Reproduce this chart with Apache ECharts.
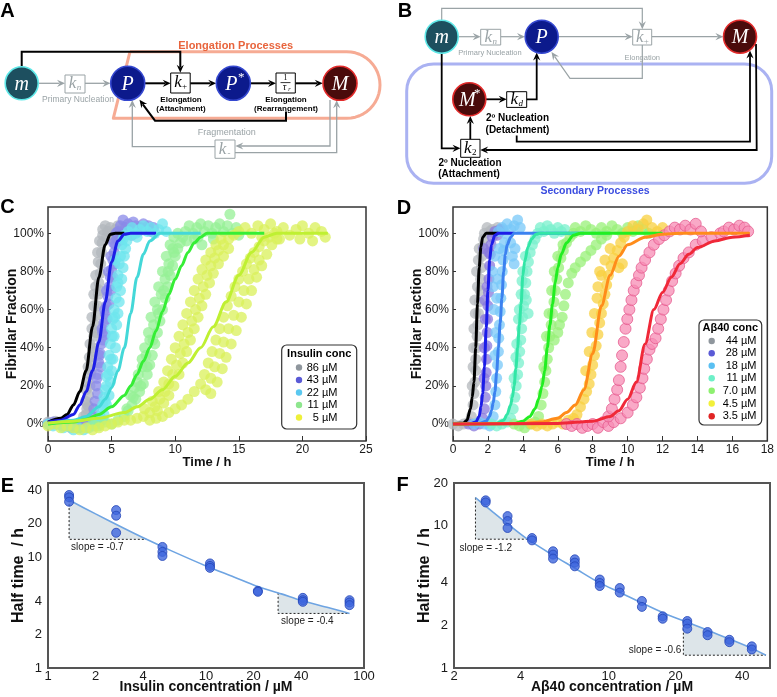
<!DOCTYPE html>
<html><head><meta charset="utf-8">
<script src="https://cdn.jsdelivr.net/npm/echarts@6/dist/echarts.min.js"></script>
<style>html,body{margin:0;padding:0;background:#fff}#c{width:777px;height:697px}</style>
</head><body><div id="c"></div><script>
const SANS = '"Liberation Sans", Arial, Helvetica, sans-serif';
const SERIF = '"Liberation Serif", "DejaVu Serif", serif';

// ---------- Panel C: insulin (time h, fibrillar fraction %) ----------
const cNames = ['86 µM','43 µM','22 µM','11 µM','5 µM'];
const cPts86 = [[0,1],[0.3,0],[0.6,1.5],[0.9,0.5],[1.2,-1],[1.5,0],[1.8,-2],[2.1,-1],[2.4,-2],[2.7,0],[2.9,2],[3.0,5],[3.1,10],[3.2,15],[3.3,20],[3.35,26],[3.45,33],[3.5,40],[3.6,46],[3.7,52],[3.8,57],[3.9,62],[3.95,68],[4.0,74],[4.1,79],[4.15,84],[4.2,90],[4.25,95],[4.3,99],[3.8,48],[3.65,38],[3.4,28],[4.05,70],[3.2,9],[2.95,12],[3.1,22],[3.25,35],[3.45,50],[3.6,62],[3.75,72],[3.95,85],[4.3,102],[4.5,104],[4.7,101],[4.9,103],[5.1,100],[5.3,102],[5.5,104],[5.7,101],[5.9,103],[4.6,98],[5.0,97],
 [3.0,18],[3.15,30],[3.3,42],[3.45,56],[3.6,68],[3.75,78],[3.9,90],[4.05,96],[2.8,4],[3.05,8]];
const cPts43 = [[0,0],[0.4,1],[0.8,0],[1.2,1],[1.6,0],[2,-1],[2.4,0],[2.8,1],[3.2,2],[3.5,4],[3.7,12],[3.8,20],[3.9,26],[4.0,32],[4.1,37],[4.2,42],[4.3,48],[4.4,53],[4.5,58],[4.6,62],[4.7,67],[4.8,72],[4.9,77],[5.0,81],[5.1,86],[5.2,90],[5.3,94],[5.4,97],[4.35,44],[4.65,55],[4.95,70],[5.25,84],[3.9,16],[4.15,30],[4.5,47],[4.8,63],[5.1,77],[5.5,101],[5.7,104],[5.9,107],[6.1,103],[6.3,105],[6.5,102],[6.7,106],[6.9,104],[7.1,101],[7.3,103],[7.5,105],[7.7,102],[7.9,104],[8.1,101],[8.3,103],[5.8,99],[6.6,99],
 [3.6,8],[3.85,24],[4.05,36],[4.25,50],[4.45,60],[4.6,70],[4.75,80],[4.95,88],[5.15,95],[5.35,100],[5.6,96]];
const cPts22 = [[0,0],[0.4,-1],[0.8,0],[1.2,-2],[1.6,-1],[2,-3],[2.4,-2],[2.8,-3],[3.2,-2],[3.6,-1],[4.0,0],[4.3,2],[4.4,5],[4.6,10],[4.8,15],[4.5,18],[4.9,22],[5.0,28],[5.1,34],[4.8,36],[5.3,40],[5.2,46],[5.0,50],[5.4,52],[5.5,58],[5.2,60],[5.6,64],[5.7,70],[5.4,72],[5.8,76],[5.9,82],[5.6,84],[6.0,88],[6.1,92],[5.8,94],[6.2,96],[6.0,99],[4.7,30],[5.1,55],[5.5,78],[4.6,25],[4.9,42],[6.3,101],[6.6,103],[6.9,100],[7.2,102],[7.5,104],[7.8,101],[8.1,103],[8.4,100],[8.7,102],[9.0,105],[9.3,101],[6.5,99],[7.0,98],
 [4.2,8],[4.4,14],[4.6,20],[4.75,26],[4.95,34],[5.05,46],[5.25,56],[5.35,66],[5.5,74],[5.7,88],[5.9,97],[5.3,86],[3.8,2],[4.1,4],[4.3,10],[4.5,12]];
const cPts11 = [[3.5,0],[4.0,-1],[4.5,1],[5.0,0],[5.5,2],[6.0,4],[6.3,7],[6.6,10],[6.9,13],[7.2,17],[7.5,21],[7.8,26],[8.0,31],[8.2,36],[8.4,42],[8.6,48],[8.8,54],[9.0,60],[9.2,66],[9.4,72],[9.6,78],[9.8,83],[10.0,88],[10.2,92],[10.4,95],[10.6,98],[7.0,22],[7.4,30],[7.7,36],[8.0,44],[8.3,52],[8.6,60],[8.9,68],[9.2,76],[9.5,84],[9.8,92],[10.8,101],[11.1,104],[11.4,100],[11.7,103],[12.0,105],[12.3,101],[12.6,104],[12.9,100],[13.2,103],[13.5,105],[13.8,101],[14.1,104],[14.3,110],[14.5,100],[14.8,103],[15.0,99],[11.5,97],[13,97],[10.9,96],[12.1,94],[11.8,98],
 [6.5,15],[6.8,19],[7.1,26],[7.4,34],[7.6,40],[7.9,48],[8.1,56],[8.4,64],[8.7,72],[9.0,80],[9.3,88],[9.6,94],[9.9,98],[10.2,100],
 [6.2,8],[6.7,14],[7.3,20],[7.8,30],[8.25,44],[8.7,58],[9.1,70],[9.45,80],[9.9,90]];
const cPts5 = [[0,-1],[0.5,0],[1,-2],[1.5,-1],[2,-2],[2.5,-3],[3,-2],[3.5,-3],[4,-2],[4.5,-1],[5,0],[5.5,1],[6,2],[6.5,2],[7,3],[7.5,4],[8,2],[8.5,3],[9,4],[9.5,6],[10,8],[10.5,10],[11,13],[11.5,17],
 [8.0,6],[8.4,9],[8.8,13],[9.2,17],[9.5,21],[9.8,26],[10.1,31],[10.4,37],[10.7,42],[11.0,48],[11.3,54],[11.6,60],[11.9,66],[12.2,72],[12.5,78],[12.8,83],[13.1,87],[13.4,91],[13.8,94],[14.2,97],[14.6,99],
 [8.6,7],[9.1,11],[9.5,15],[9.9,20],[10.3,26],[10.6,32],[10.9,38],[11.2,44],[11.5,50],[11.8,56],[12.1,62],[12.4,68],[12.7,74],[13.0,79],[13.4,84],[13.8,88],[14.2,92],
 [7.6,8],[8.2,12],[8.7,17],[9.1,22],[9.4,28],[9.7,34],[10.0,40],[10.3,46],[10.6,52],[10.9,58],[11.2,64],[11.5,70],[11.8,76],[12.1,81],[12.4,86],[12.8,90],[13.2,94],[13.6,97],
 [12.0,21],[12.3,26],[12.6,32],[12.9,38],[13.2,44],[13.5,50],[13.8,56],[14.1,62],[14.4,67],[14.7,72],[15.0,76],[15.3,80],[15.6,84],[15.9,87],[16.2,90],[16.6,93],[17.0,96],[17.4,98],[17.8,100],
 [12.4,18],[12.8,24],[13.1,30],[13.5,37],[13.8,43],[14.2,50],[14.6,57],[15.0,64],[15.4,70],[15.8,76],[16.2,81],[16.6,86],
 [12.8,16],[13.3,22],[13.7,29],[14.0,35],[14.4,42],[14.8,49],[15.2,56],[15.6,63],[16.0,70],[16.4,77],[16.8,83],[17.2,89],[17.6,94],[18.0,97],
 [15,101],[15.5,103],[16,100],[16.5,104],[17,102],[17.5,105],[18,101],[18.5,103],[19,99],[19.5,102],[20,104],[20.5,100],[21,103],[21.5,101],[21.8,98],[18.2,97],[19.8,97],[20.8,96],[16.8,98]];
const cFit86 = [[0,1],[1,3],[1.5,5],[2,10],[2.5,17],[3,28],[3.5,51],[4,77],[4.5,94],[4.9,99.5],[5.3,100],[6,100]];
const cFit43 = [[0,1],[1,2],[2,5],[2.5,10],[3,17],[3.5,28],[4,43],[4.5,64],[5,85],[5.5,96],[6,99.5],[6.5,100],[8.5,100]];
const cFit22 = [[0,0],[2,2],[3,4],[4,9],[4.5,13],[5,19],[5.5,28],[6,40],[6.5,58],[7,77],[7.5,89],[8,96],[8.8,100],[12,100]];
const cFit11 = [[0,0],[2,1],[3,2.5],[4,5],[5,9],[6,15],[6.5,20],[7,26],[7.5,33],[8,40],[8.5,49],[9,59],[9.5,68],[10,76],[10.5,83],[11,90],[11.5,95],[12,98],[12.5,100],[17,100]];
const cFit5 = [[0,0.5],[2,1.5],[4,3],[6,6],[7,9],[8,13],[9,18],[10,25],[11,32],[12,40],[13,51],[14,64],[15,78],[16,90],[17,98],[18,100],[22,100]];

// ---------- Panel D: Aβ40 ----------
const dNames = ['44 µM','28 µM','18 µM','11 µM','7.0 µM','4.5 µM','3.5 µM'];
const dPts44 = [[0,0],[0.3,-1],[0.6,0],[0.9,1],[1.05,4],[1.15,10],[1.2,16],[1.25,22],[1.3,28],[1.3,34],[1.35,40],[1.38,46],[1.42,52],[1.46,58],[1.5,64],[1.55,70],[1.58,76],[1.62,82],[1.66,88],[1.7,93],[1.75,97],[1.15,30],[1.2,50],[1.25,65],[1.35,80],[1.5,92],[1.8,100],[1.95,103],[2.1,101],[2.25,102],[2.4,100],[2.55,103],[2.7,101],[2.85,102],[1.1,20],[1.18,40],[1.28,58],[1.4,72],[1.45,86]];
const dPts28 = [[0.9,0],[1.2,-1],[1.5,0],[1.7,3],[1.8,8],[1.85,14],[1.88,20],[1.9,27],[1.92,34],[1.94,41],[1.96,48],[1.98,55],[2.0,62],[2.03,69],[2.06,76],[2.1,83],[2.14,89],[2.18,94],[1.8,40],[1.85,55],[1.95,72],[2.05,90],[2.25,98],[2.4,101],[2.55,99],[2.7,102],[1.78,24],[1.82,65],[1.75,92]];
const dPts18 = [[1.2,0],[1.5,1],[1.8,0],[2.1,-1],[2.3,4],[2.4,10],[2.45,17],[2.5,24],[2.55,31],[2.6,38],[2.62,45],[2.66,52],[2.7,59],[2.74,66],[2.78,73],[2.82,80],[2.86,86],[2.9,91],[2.95,95],[2.35,60],[2.3,72],[2.25,80],[2.4,88],[3.4,88],[3.5,84],[3.55,92],[3.3,95],[3.0,100],[2.8,103],[3.1,105],[3.3,102],[3.5,104],[3.7,107],[3.85,103],[2.6,101],[2.4,36],[2.45,48],[2.5,66],[2.55,76],[2.65,92]];
const dPts11 = [[2.2,0],[2.5,-1],[2.8,0],[3.1,1],[3.3,3],[3.45,8],[3.55,14],[3.62,20],[3.7,26],[3.76,32],[3.82,38],[3.88,44],[3.93,50],[3.98,56],[4.04,62],[4.1,68],[4.17,74],[4.24,80],[4.32,85],[4.42,90],[4.55,94],[4.7,97],[3.6,35],[3.75,55],[4.2,65],[4.3,58],[3.95,75],[4.85,100],[5.0,103],[5.2,101],[5.4,104],[5.6,102],[5.8,100],[6.0,103],[6.2,101],[6.4,102],
 [3.5,24],[3.65,42],[3.8,60],[3.9,68],[4.0,80],[4.15,88]];
const dPts7 = [[3.5,0],[3.8,-1],[4.1,-2],[4.4,0],[4.7,1],[4.9,4],[5.05,10],[5.15,16],[5.25,22],[5.32,28],[5.4,34],[5.48,40],[5.55,46],[5.62,52],[5.7,58],[5.78,64],[5.86,70],[5.95,76],[6.05,82],[6.18,87],[6.32,91],[6.5,95],[6.7,98],[6.9,100],[5.8,44],[6.0,48],[6.1,52],[6.25,56],[6.35,62],[6.44,68],[6.6,74],[6.8,79],[7.0,82],[7.3,85],[7.6,88],[7.9,91],[8.2,94],[8.5,97],[8.8,99],[7.0,103],[7.3,101],[7.6,104],[7.9,102],[8.2,100],[8.5,103],[8.8,101],[9.1,104],[9.4,102],[9.7,100],[10.0,103],[10.3,101],[10.6,104],[10.9,102],[11.2,100],
 [5.2,30],[5.35,46],[5.5,58],[5.65,70],[5.8,80],[6.0,88],[6.3,94]];
const dPts45 = [[4.5,0],[4.8,-1],[5.1,0],[5.4,-1],[5.7,0],[6.0,1],[6.3,0],[6.6,2],[6.9,3],[7.1,5],[7.3,9],[7.5,13],[7.65,17],[7.8,21],[7.9,26],[8.0,31],[8.1,36],[8.2,41],[8.3,47],[8.4,53],[8.5,58],[8.6,63],[8.7,68],[8.8,73],[8.9,78],[9.05,83],[9.2,87],[9.4,91],[9.6,95],[9.8,98],[8.3,72],[8.5,78],[9.5,82],[9.7,84],[10.0,101],[10.3,104],[10.6,102],[10.9,105],[11.1,107],[11.4,103],[11.7,101],[12.0,103],
 [7.6,28],[7.8,38],[7.95,48],[8.1,58],[8.25,66],[8.4,80],[8.7,86],[9.0,92]];
const dPts35 = [[6.5,0],[6.8,-1],[7.1,0],[7.4,-2],[7.7,-1],[8.0,0],[8.3,-2],[8.6,1],[8.9,-1],[9.2,1],
 [8.9,4],[9.1,8],[9.25,13],[9.4,18],[9.5,23],[9.6,30],[9.68,36],[9.78,43],[9.88,50],[9.98,55],[10.1,60],[10.22,65],[10.35,70],[10.5,74],[10.65,78],[10.8,82],[11.0,86],[11.25,90],[11.5,94],[11.8,97],[12.1,99],
 [9.6,3],[10.0,6],[10.3,10],[10.5,14],[10.7,19],[10.85,24],[10.95,29],[11.1,34],[11.25,39],[11.4,42],[11.6,45],[11.75,50],[11.9,55],[12.05,60],[12.2,65],[12.35,70],[12.55,75],[12.75,79],[12.95,83],[13.2,87],[13.5,90],[13.9,94],[14.3,96],[14.8,98],[15.3,100],
 [12.4,101],[12.7,103],[13.0,102],[13.3,104],[13.6,102],[13.9,105],[14.2,101],[15.5,101],[15.8,103],[16.1,102],[16.4,104],[16.7,103],[16.9,101]];
const dFit44 = [[0,0],[0.6,0.5],[0.8,2],[1.0,8],[1.1,14],[1.2,22],[1.3,40],[1.4,63],[1.5,82],[1.6,93],[1.7,98],[1.9,100],[2.6,100]];
const dFit28 = [[0,0],[1,0.3],[1.3,1],[1.5,4],[1.6,9],[1.7,16],[1.8,30],[1.9,50],[2.0,70],[2.1,86],[2.2,94],[2.4,99],[2.6,100],[3.5,100]];
const dFit18 = [[0,0],[1.5,0.3],[1.9,1.5],[2.1,4],[2.2,7],[2.3,11],[2.4,17],[2.5,27],[2.6,40],[2.7,53],[2.8,66],[2.9,80],[3.0,89],[3.1,94],[3.3,98],[3.5,100],[7.5,100]];
const dFit11 = [[0,0],[2.5,0.3],[2.9,2],[3.1,5],[3.3,10],[3.4,14],[3.5,20],[3.6,29],[3.7,40],[3.8,52],[3.9,63],[4.0,78],[4.1,85],[4.3,93],[4.5,97],[4.75,99.5],[5,100],[9,100]];
const dFit7 = [[0,0],[3.5,0.3],[4.0,1.5],[4.4,4],[4.7,8],[4.9,13],[5.1,20],[5.25,28],[5.4,40],[5.55,52],[5.7,63],[5.85,74],[6.0,82],[6.2,89],[6.5,95],[6.9,99],[7.3,100],[12,100]];
const dFit45 = [[0,0],[4,0.3],[5,1],[6,3],[6.5,6],[7,10],[7.5,18],[8,37],[8.5,62],[9,78],[9.5,88],[10,94],[11,98],[12,99.5],[13,100],[17,100]];
const dFit35 = [[0,0],[6,0.3],[8,1.5],[9,4],[9.5,7],[10,13],[10.5,22],[11,42],[11.5,60],[12,69],[12.5,77],[13,84],[13.5,89],[14,92.5],[15,96],[16,98],[17,99]];

// ---------- Panel E / F: half times ----------
const eConc = [1.36,1.36,1.36,2.7,2.7,2.7,5.3,5.3,5.3,10.6,10.6,10.6,21.3,21.3,41,41,41,81,81,81];
const eHalf = [36.1,34.4,31.4,26.4,23.5,16.5,12.3,11.1,10.2,8.74,8.3,7.97,4.95,4.85,4.28,4.08,3.94,4.08,3.89,3.68];
const eFitX = [1.36,2,3,4.2,6,10,15,21,30,40,60,81];
const eFitY = [32.5,24.4,18.2,14.4,11.4,8.3,6.6,5.45,4.65,4.05,3.49,3.1];
const eSlopes = [{x1:1.36,yTop:32.5,yBase:14.4,x2:4.2,label:'slope = -0.7'},{x1:28.6,yTop:4.75,yBase:3.1,x2:81,label:'slope = -0.4'}];
const fConc = [2.78,2.78,3.49,3.49,3.49,4.5,4.5,5.6,5.6,5.6,7.02,7.02,7.02,9.1,9.1,9.1,11.2,11.2,14.1,14.1,17.5,17.5,22.6,22.6,22.6,27.9,27.9,35,35,44.2,44.2];
const fHalf = [15.1,14.6,11.7,10.8,9.65,8.2,7.9,6.62,6.27,5.88,5.81,5.51,5.19,4.19,3.96,3.77,3.65,3.39,2.96,2.69,2.31,2.22,2.14,2.05,1.89,1.79,1.70,1.58,1.52,1.42,1.35];
const fFitX = [2.5,3,3.5,4.3,5.6,7,9,11.2,14,17.5,21.7,28,35,44,51.2];
const fFitY = [15.8,12.5,10.3,8.05,6.2,5.05,4.0,3.4,2.88,2.45,2.15,1.84,1.6,1.38,1.23];
const fSlopes = [{x1:2.5,yTop:15.8,yBase:8.05,x2:4.3,label:'slope = -1.2'},{x1:21.7,yTop:2.15,yBase:1.23,x2:51.2,label:'slope = -0.6'}];

const pctTicks = [0,20,40,60,80,100];
const eXTicks = [1,2,4,10,20,40,100];
const eYTicks = [1,2,4,10,20,40];
const fXTicks = [2,4,10,20,40];
const fYTicks = [1,2,4,10,20];

// ---------- styles ----------
const cStyle = [
  {pts:cPts86, fit:cFit86, pc:'#b2b7bc', lc:'#000000', lg:'#8f969d'},
  {pts:cPts43, fit:cFit43, pc:'#8a8ae8', lc:'#1e1ee6', lg:'#5a5ad6'},
  {pts:cPts22, fit:cFit22, pc:'#6ee6ee', lc:'#44d8d8', lg:'#5ac8f0'},
  {pts:cPts11, fit:cFit11, pc:'#96f096', lc:'#36ee36', lg:'#8ee68e'},
  {pts:cPts5,  fit:cFit5,  pc:'#d9f05a', lc:'#bff032', lg:'#eef03a'}
];
const dStyle = [
  {pts:dPts44, fit:dFit44, pc:'#b4b8bc', lc:'#000000', lg:'#8f969d'},
  {pts:dPts28, fit:dFit28, pc:'#8878dc', lc:'#1c1ce8', lg:'#5a5ad6'},
  {pts:dPts18, fit:dFit18, pc:'#78c8f8', lc:'#3c82f0', lg:'#5ac0f2'},
  {pts:dPts11, fit:dFit11, pc:'#78f0cc', lc:'#32e6a6', lg:'#6ef0c8'},
  {pts:dPts7,  fit:dFit7,  pc:'#98f078', lc:'#22ee22', lg:'#8ef070'},
  {pts:dPts45, fit:dFit45, pc:'#f8d040', lc:'#ff8c1a', lg:'#f2f03a'},
  {pts:dPts35, fit:dFit35, pc:'#f78cb4', lc:'#f02838', lg:'#e02424', border:'#e4588c'}
];

const series = [];
function addKinetics(styles, names, gi){
  styles.forEach((s,i)=>{
    series.push({type:'scatter', name:names[i], xAxisIndex:gi, yAxisIndex:gi, data:s.pts, symbolSize:11, z:2, silent:true,
      itemStyle:{color:s.pc, opacity:0.75, borderColor:s.border||s.pc, borderWidth:s.border?1:0}});
  });
  styles.forEach((s,i)=>{
    series.push({type:'line', name:names[i]+' fit', xAxisIndex:gi, yAxisIndex:gi, data:s.fit, showSymbol:false, smooth:0.3, smoothMonotone:'x', z:3, silent:true,
      lineStyle:{color:s.lc, width:3}});
  });
}
addKinetics(cStyle, cNames, 0);
addKinetics(dStyle, dNames, 1);

function slopeSeries(gi, tri, fx, fy, lab){
  return {type:'custom', xAxisIndex:gi, yAxisIndex:gi, z:1, silent:true,
    data: tri.map(t=>[t.x1,t.yTop,t.yBase,t.x2]),
    renderItem:function(params, api){
      const t = tri[params.dataIndex], L = lab[params.dataIndex];
      const x1=api.value(0), yT=api.value(1), yB=api.value(2), x2=api.value(3);
      const pT=api.coord([x1,yT]), pL=api.coord([x1,yB]), pR=api.coord([x2,yB]);
      const poly=[pT,pL,pR];
      for(let i=fx.length-1;i>=0;i--){ if(fx[i]>x1 && fx[i]<x2) poly.push(api.coord([fx[i],fy[i]])); }
      return {type:'group', children:[
        {type:'polygon', shape:{points:poly}, style:{fill:'#dde5e9'}},
        {type:'polyline', shape:{points:[pT,pL,pR]}, style:{stroke:'#222', lineWidth:1, lineDash:[2,2], fill:null}},
        {type:'text', style:{x:pL[0]+L.dx, y:pL[1]+L.dy, text:t.label, fontSize:10, fontFamily:SANS, fill:'#222', align:L.align, verticalAlign:'middle'}}
      ]};
    }};
}
function zip(a,b){ return a.map((v,i)=>[v,b[i]]); }
series.push(slopeSeries(2, eSlopes, eFitX, eFitY, [{dx:2,dy:8,align:'left'},{dx:3,dy:8,align:'left'}]));
series.push({type:'line', xAxisIndex:2, yAxisIndex:2, data:zip(eFitX,eFitY), showSymbol:false, smooth:0.3, z:3, silent:true, lineStyle:{color:'#6ea4e2', width:1.6}});
series.push({type:'scatter', xAxisIndex:2, yAxisIndex:2, data:zip(eConc,eHalf), symbolSize:9, z:4, silent:true, itemStyle:{color:'#3f66dd', borderColor:'#2446b8', borderWidth:1}});
series.push(slopeSeries(3, fSlopes, fFitX, fFitY, [{dx:-16,dy:9,align:'left'},{dx:-2,dy:-5,align:'right'}]));
series.push({type:'line', xAxisIndex:3, yAxisIndex:3, data:zip(fFitX,fFitY), showSymbol:false, smooth:0.3, z:3, silent:true, lineStyle:{color:'#6ea4e2', width:1.6}});
series.push({type:'scatter', xAxisIndex:3, yAxisIndex:3, data:zip(fConc,fHalf), symbolSize:9, z:4, silent:true, itemStyle:{color:'#3f66dd', borderColor:'#2446b8', borderWidth:1}});

// ---------- axes ----------
const lab = {fontSize:12, color:'#1a1a1a', fontFamily:SANS};
const nameStyle = (s)=>({fontSize:s, fontWeight:'bold', color:'#111', fontFamily:SANS});
function kinX(gi, max, interval){
  return {gridIndex:gi, type:'value', min:0, max:max, interval:interval, name:'Time / h', nameLocation:'middle', nameGap:15, nameTextStyle:nameStyle(13), nameMoveOverlap:false,
    axisLine:{show:false, onZero:false}, axisTick:{show:true, inside:true, length:5, lineStyle:{color:'#333'}},
    axisLabel:Object.assign({margin:3}, lab), splitLine:{show:false}};
}
function kinY(gi){
  return {gridIndex:gi, type:'value', min:-8.9, max:113.8, name:'Fibrillar Fraction', nameLocation:'middle', nameGap:29, nameTextStyle:nameStyle(14), nameMoveOverlap:false,
    axisLine:{show:false, onZero:false}, axisTick:{show:true, inside:true, length:3, customValues:pctTicks, lineStyle:{color:'#333'}},
    axisLabel:Object.assign({margin:4, customValues:pctTicks, formatter:'{value}%'}, lab), splitLine:{show:false}};
}
function logAx(gi, min, max, ticks, name, gap, fs){
  return {gridIndex:gi, type:'log', logBase:10, min:min, max:max, name:name, nameLocation:'middle', nameGap:gap, nameTextStyle:nameStyle(fs), nameMoveOverlap:false,
    axisLine:{show:false, onZero:false}, axisTick:{show:false}, minorTick:{show:false},
    axisLabel:Object.assign({margin:4, customValues:ticks}, lab, {fontSize:13}), splitLine:{show:false}, minorSplitLine:{show:false}};
}
const xAxis = [kinX(0,25,5), kinX(1,18,2),
  logAx(2,1,100,eXTicks,'Insulin concentration / µM',12,14), logAx(3,2,53.4,fXTicks,'Aβ40 concentration / µM',12,14)];
const yAxis = [kinY(0), kinY(1),
  logAx(2,1,46.3,eYTicks,'Half time  / h',21,16), logAx(3,1,20,fYTicks,'Half time  / h',21,16)];
xAxis[2].axisLabel.margin = 2; xAxis[3].axisLabel.margin = 2;
yAxis[2].axisLabel.margin = 6; yAxis[3].axisLabel.margin = 6;

// ---------- graphic: diagrams, legends, letters ----------
const G = [];
function txt(x,y,s,o){ o=o||{}; G.push({type:'text', silent:true, z:o.z||10, style:{x:x, y:y, text:s, fill:o.fill||'#000', fontSize:o.size||12, fontFamily:o.family||SANS, fontWeight:o.weight||'normal', fontStyle:o.style||'normal', align:o.align||'center', verticalAlign:o.va||'middle'}}); }
function pline(pts,color,w,z){ G.push({type:'polyline', silent:true, z:z||5, shape:{points:pts}, style:{stroke:color, lineWidth:w, fill:null}}); }
function arrow(pts,color,w){
  const n=pts.length, x2=pts[n-1][0], y2=pts[n-1][1], x1=pts[n-2][0], y1=pts[n-2][1];
  const dx=x2-x1, dy=y2-y1, L=Math.hypot(dx,dy), ux=dx/L, uy=dy/L, hl=8, hw=3.6;
  const bx=x2-ux*hl, by=y2-uy*hl;
  pline(pts.slice(0,n-1).concat([[x2-ux*hl*0.7, y2-uy*hl*0.7]]), color, w);
  G.push({type:'polygon', silent:true, z:6, shape:{points:[[x2,y2],[bx-uy*hw,by+ux*hw],[x2-ux*hl*0.65,y2-uy*hl*0.65],[bx+uy*hw,by-ux*hw]]}, style:{fill:color}});
}
function node(cx,cy,r,fill,stroke,label,star){
  G.push({type:'circle', silent:true, z:7, shape:{cx:cx, cy:cy, r:r}, style:{fill:fill, stroke:stroke, lineWidth:1.6}});
  txt(cx-(star?2:0), cy+1, label, {fill:'#fff', size:20, family:SERIF, style:'italic'});
  if(star) txt(cx+8, cy-6, '*', {fill:'#fff', size:13, family:SERIF});
}
function kbox(x,y,w,h,color,sub,subItalic){
  G.push({type:'rect', silent:true, z:7, shape:{x:x, y:y, width:w, height:h}, style:{fill:'#fff', stroke:color, lineWidth:1}});
  txt(x+w/2-2.5, y+h/2, 'k', {fill:color, size:17, family:SERIF, style:'italic'});
  txt(x+w/2+4, y+h/2+4, sub, {fill:color, size:9, family:SERIF, style:subItalic?'italic':'normal'});
}
const GRAY='#9aa3a6', BLK='#000';

// Panel A: "Elongation Processes" outline (straight edges + right half-circle)
const elongOutline = [[130,51.7],[346.7,51.7]];
for(let k=1;k<=24;k++){ const a=-Math.PI/2+Math.PI*k/24; elongOutline.push([346.7+33.3*Math.cos(a), 85+33.3*Math.sin(a)]); }
elongOutline.push([113.3,118.3],[130,51.7]);
G.push({type:'polyline', silent:true, z:1, shape:{points:elongOutline}, style:{stroke:'#f6ab94', lineWidth:3, fill:null, lineJoin:'round'}});
txt(235.7,45.5,'Elongation Processes',{weight:'bold', size:11, fill:'#e8643c'});
arrow([[38.2,83.3],[65,83.3]], GRAY, 1.3);
arrow([[85,83.3],[110.5,83.3]], GRAY, 1.3);
arrow([[21.7,67],[21.7,51.7],[180.3,51.7],[180.3,72.8]], BLK, 2);
arrow([[144.7,83.3],[170.7,83.3]], BLK, 2);
arrow([[190.2,83.3],[216.2,83.3]], BLK, 2);
arrow([[250.3,83.3],[276,83.3]], BLK, 2);
arrow([[295.3,83.3],[322.8,83.3]], BLK, 2);
arrow([[286,111.5],[286,120.7],[155,120.7],[139.5,99.8]], BLK, 2);
arrow([[330,100],[330,146],[235.3,146]], GRAY, 1.3);
arrow([[235,152.7],[336.7,152.7],[336.7,100.2]], GRAY, 1.3);
arrow([[215,146.7],[132.3,146.7],[132.3,100]], GRAY, 1.3);
node(21.7,83.3,16.5,'#1d4f5f','#5ee8e8','m');
kbox(65,75,20,18,GRAY,'n',true);
node(127.7,83.3,17,'#0c1a8c','#3548d0','P');
kbox(170.7,73,19.5,20,BLK,'+',false);
node(233.3,83.3,17,'#0c1a8c','#3548d0','P',true);
G.push({type:'rect', silent:true, z:7, shape:{x:276, y:73, width:19.3, height:20}, style:{fill:'#fff', stroke:BLK, lineWidth:1}});
txt(285.6,77.8,'1',{size:8, family:SERIF});
pline([[280.5,82.6],[290.5,82.6]], BLK, 0.8, 11);
txt(284.6,87.6,'τ',{size:10, family:SERIF, style:'italic'});
txt(289.3,89.6,'r',{size:6, family:SERIF, style:'italic'});
node(340,83.3,17,'#4a0b0b','#e22a2a','M');
kbox(215,140,20,18.3,GRAY,'-',false);
txt(78,99.5,'Primary Nucleation',{size:8.5, fill:GRAY});
txt(181,99.5,'Elongation',{size:8, weight:'bold'});
txt(181,108.5,'(Attachment)',{size:8, weight:'bold'});
txt(286,99.5,'Elongation',{size:8, weight:'bold'});
txt(286,108.5,'(Rearrangement)',{size:8, weight:'bold'});
txt(226.7,132.7,'Fragmentation',{size:9, fill:GRAY});
txt(7.5,11,'A',{size:20, weight:'bold'});

// Panel B
G.push({type:'rect', silent:true, z:1, shape:{x:406.7, y:64, width:365, height:119.3, r:27}, style:{stroke:'#aab2f2', lineWidth:3, fill:null}});
txt(595,190.7,'Secondary Processes',{weight:'bold', size:10.5, fill:'#3b4de0'});
arrow([[458.2,36.7],[480.7,36.7]], GRAY, 1.2);
arrow([[500.7,36.7],[525,36.7]], GRAY, 1.2);
arrow([[441.7,20.2],[441.7,8.3],[642.3,8.3],[642.3,29.3]], GRAY, 1.2);
arrow([[558.2,36.7],[632.7,36.7]], GRAY, 1.2);
arrow([[651.7,36.7],[723.4,36.7]], GRAY, 1.2);
arrow([[642.3,45],[642.3,78.3],[570,78.3],[551.5,52]], GRAY, 1.2);
arrow([[485.8,99.3],[506.7,99.3]], BLK, 1.8);
arrow([[526.7,99.3],[536.7,99.3],[536.7,52.5]], BLK, 1.8);
arrow([[516.7,135.5],[516.7,141.7],[750,141.7],[750,50.5]], BLK, 1.8);
arrow([[756,44],[756.7,150],[480.2,150]], BLK, 1.8);
arrow([[441.7,53.2],[441.7,148.3],[460.5,148.3]], BLK, 1.8);
arrow([[470.3,139.3],[470.3,116]], BLK, 1.8);
node(441.7,36.7,16.5,'#1d4f5f','#5ee8e8','m');
kbox(480.7,29.3,20,15.7,GRAY,'n',true);
node(541.7,36.7,16.5,'#0c1a8c','#3548d0','P');
kbox(632.7,29.3,19,15.7,GRAY,'+',false);
node(740,36.7,16.5,'#4a0b0b','#e22a2a','M');
node(469.3,99.3,16.5,'#4a0b0b','#e22a2a','M',true);
kbox(506.7,91.7,20,15.7,BLK,'d',true);
kbox(460.7,139.3,19.3,18,BLK,'2',false);
txt(490,52.7,'Primary Nucleation',{size:7.5, fill:GRAY});
txt(642.3,58.3,'Elongation',{size:7.5, fill:GRAY});
txt(517.5,118.3,'2º Nucleation',{size:10, weight:'bold'});
txt(517.5,130,'(Detachment)',{size:10, weight:'bold'});
txt(470,163.3,'2º Nucleation',{size:10, weight:'bold'});
txt(469,174.5,'(Attachment)',{size:10, weight:'bold'});
txt(405,11.7,'B',{size:20, weight:'bold'});

// Panel letters C-F
txt(7.5,207.5,'C',{size:20, weight:'bold'});
txt(404,208.5,'D',{size:20, weight:'bold'});
txt(7.5,486.5,'E',{size:20, weight:'bold'});
txt(402.5,485.5,'F',{size:20, weight:'bold'});

// Legends
function legend(x,y,w,h,title,titleY,names,styles,dotX,textX,rows){
  G.push({type:'rect', silent:true, z:100, shape:{x:x, y:y, width:w, height:h, r:5}, style:{fill:'#fff', stroke:'#333', lineWidth:1.2}});
  txt(x+w/2, titleY, title, {weight:'bold', size:11, z:101});
  names.forEach((n,i)=>{
    G.push({type:'circle', silent:true, z:101, shape:{cx:dotX, cy:rows[i], r:3.2}, style:{fill:styles[i].lg}});
    txt(textX, rows[i], n, {size:11, align:'right', z:101});
  });
}
legend(281.7,345,75,84,'Insulin conc',354,cNames,cStyle,299,337.5,[367.5,380,392.5,405,417.5]);
legend(699,320,62.7,105,'Aβ40 conc',328,dNames,dStyle,711.7,756.5,[341,353.3,365.7,378.3,390.7,403.5,416.3]);

const chart = echarts.init(document.getElementById('c'), null, {renderer:'canvas'});
chart.setOption({
  animation:false,
  backgroundColor:'#fff',
  textStyle:{fontFamily:SANS},
  grid:[
    {left:48, top:207, width:318, height:234, show:true, borderColor:'#333', borderWidth:1.5, containLabel:false},
    {left:453, top:207, width:317, height:234, show:true, borderColor:'#333', borderWidth:1.5, containLabel:false},
    {left:48, top:483, width:316, height:185, show:true, borderColor:'#555', borderWidth:2, containLabel:false},
    {left:454, top:483, width:316, height:185, show:true, borderColor:'#555', borderWidth:2, containLabel:false}
  ],
  xAxis:xAxis, yAxis:yAxis, series:series,
  graphic:{elements:G}
});
</script></body></html>
